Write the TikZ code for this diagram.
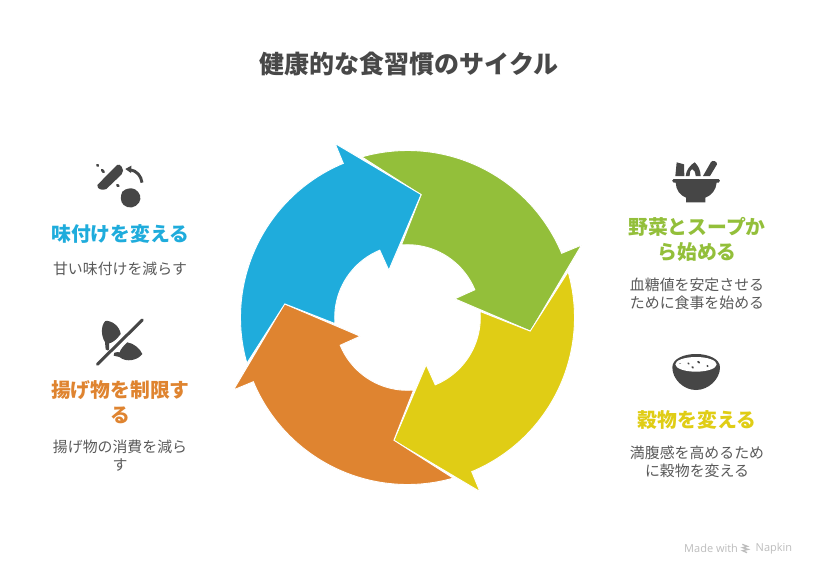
\documentclass[tikz,border=0pt]{standalone}
\usepackage{fontspec}
\setmainfont{Noto Sans CJK JP}
\newfontfamily\latinfont{Open Sans}
\definecolor{cgreen}{HTML}{93BF3A}
\definecolor{cyellow}{HTML}{E0CD15}
\definecolor{corange}{HTML}{DF8430}
\definecolor{cblue}{HTML}{1FACDC}
\definecolor{ink}{HTML}{464646}
\definecolor{titleink}{HTML}{484848}
\definecolor{bodyink}{HTML}{5A5A5A}
\definecolor{faint}{HTML}{BDBDBD}
\tikzset{
  titletext/.style={text=titleink,font=\fontsize{25}{30}\selectfont\bfseries,inner sep=0pt},
  headtext/.style={font=\fontsize{19.8}{25}\selectfont\bfseries,align=center,inner sep=0pt},
  bodytext/.style={text=bodyink,font=\fontsize{14.9}{18}\selectfont,align=center,inner sep=0pt},
  icon/.style={fill=ink,draw=none},
  iconline/.style={draw=ink,line cap=round,line join=round},
  ring/.style={draw=white,line width=0.9pt,line join=miter,miter limit=10},
  zoomA/.style={shift={(#1)},scale=1/3},
}
\newcommand{\ringarrow}[2]{%
  \begin{scope}[shift={(407.5,317.5)},rotate=#1]
    \fill[#2,ring]
      (-46,-160.8) -- (13.6,-122.7) -- (-6,-72.7)
      -- plot[domain=-94.7:-22.4,samples=40] ({72.8*cos(\x)},{72.8*sin(\x)})
      -- (47.3,-18.7) -- (123,13.6) -- (174,-72.4) -- (154.6,-64.4)
      -- plot[domain=-22.6:-106,samples=60] ({167*cos(\x)},{167*sin(\x)})
      -- cycle;
  \end{scope}}
\begin{document}
\begin{tikzpicture}[x=1pt,y=-1pt]
\useasboundingbox (0,0) rectangle (816,576);
\fill[white] (0,0) rectangle (816,576);
\ringarrow{0}{cgreen}
\ringarrow{-90}{cyellow}
\ringarrow{-180}{corange}
\ringarrow{-270}{cblue}

\node[titletext] (title) at (409,64.5) {健康的な食習慣のサイクル};

\node[headtext,text=cblue] (h1) at (120.3,233.7) {味付けを変える};
\node[bodytext] (b1) at (120,268.8) {甘い味付けを減らす};
\node[headtext,text=corange] (h2) at (120.3,402) {揚げ物を制限す\\る};
\node[bodytext] (b2) at (120,455.7) {揚げ物の消費を減ら\\す};
\node[headtext,text=cgreen] (h3) at (697,239) {野菜とスープか\\ら始める};
\node[bodytext] (b3) at (697,293.5) {血糖値を安定させる\\ために食事を始める};
\node[headtext,text=cyellow] (h4) at (697,419.5) {穀物を変える};
\node[bodytext] (b4) at (697,461.5) {満腹感を高めるため\\に穀物を変える};

% seasoning icon
\begin{scope}[zoomA={40,150}]
  \fill[icon] (172,105) -- (231,45) .. controls (236,42) and (240,44) .. (245,50)
     .. controls (250,57) and (251,66) .. (245,73) -- (199,117)
     .. controls (190,121) and (178,119) .. (174,113) .. controls (171,110) and (171,107) .. (172,105) -- cycle;
  \draw[iconline,line width=2.6pt] (172,45) -- (174,47) (186,60) -- (191,66) (232,105) -- (235,108);
  \fill[icon] (247,125) .. controls (258,114) and (275,113) .. (285,118)
     .. controls (300,126) and (306,145) .. (297,158)
     .. controls (288,173) and (265,178) .. (251,165)
     .. controls (241,155) and (240,140) .. (247,125) -- cycle;
  \draw[iconline,line width=2.9pt,line cap=butt] (306,98) .. controls (304,78) and (290,62) .. (270,59);
  \fill[icon] (274,47) -- (256,57) -- (273,69) -- cycle;
\end{scope}

% fried food icon
\begin{scope}[zoomA={40,310}]
  \fill[icon] (196,33) .. controls (215,30) and (240,50) .. (242,72)
     .. controls (230,90) and (215,99) .. (207,100) -- (208,124) -- (197,118) -- (195,96)
     .. controls (184,80) and (181,48) .. (196,33) -- cycle;
  \fill[icon] (262,97) .. controls (282,100) and (300,116) .. (307,132)
     .. controls (294,150) and (260,159) .. (238,141)
     .. controls (233,139) and (227,139) .. (221,137) -- (223,128)
     .. controls (230,126) and (234,126) .. (239,127) .. controls (241,118) and (252,106) .. (262,97) -- cycle;
  \draw[white,line width=4.4pt] (172,163) -- (307,30);
  \draw[iconline,line width=3pt] (172,163) -- (307,30);
\end{scope}

% soup bowl icon
\begin{scope}[zoomA={610,150}]
  \fill[icon] (196,78) -- (200,37) -- (222,43) -- (223,78) -- cycle;
  \fill[icon] (227,78) .. controls (228,62) and (240,45) .. (254,37)
     .. controls (264,45) and (272,62) .. (272,78) -- (257,78)
     .. controls (256,66) and (252,58) .. (247,58) .. controls (241,58) and (239,68) .. (239,78) -- cycle;
  \fill[icon] (279,78) -- (303,36) .. controls (308,29) and (322,34) .. (321,43) -- (300,78) -- cycle;
  \fill[icon] (191,87) -- (326,87) .. controls (331,87) and (331,97) .. (326,98)
     -- (320,98) .. controls (318,120) and (305,136) .. (286,143) -- (286,157) -- (228,157) -- (228,143)
     .. controls (210,136) and (198,120) .. (197,98) -- (191,98) .. controls (185,97) and (185,87) .. (191,87) -- cycle;
\end{scope}

% rice bowl icon
\begin{scope}[zoomA={610,345}]
  \fill[icon] (187,67) .. controls (187,42) and (220,27) .. (258,27)
     .. controls (296,27) and (330,42) .. (330,67)
     .. controls (330,102) and (296,135) .. (258,135)
     .. controls (220,135) and (187,102) .. (187,67) -- cycle;
  \fill[white] (258,58) ellipse [x radius=62,y radius=22];
  \draw[iconline,line width=1.7pt]
    (235,55) -- (236,56) (247,66) -- (249,68) (264,50) -- (268,53) (292,62) -- (293,64);
  \draw[draw=ink!50,line cap=round,line width=1pt] (209,55) -- (212,55);
\end{scope}

% footer
\node[text=faint,font=\latinfont\fontsize{11}{12}\selectfont,anchor=west,inner sep=0pt] (made) at (684,548.5) {Made with};
\node[text=faint,font=\latinfont\fontsize{11}{12}\selectfont,anchor=west,inner sep=0pt] (napkin) at (755.5,548.5) {Napkin};
\begin{scope}[zoomA={670,535}]
  \draw[faint,line width=1.3pt,line cap=butt]
    (217,28) -- (232,34) -- (218,38) -- (234,43) -- (218,47) -- (231,53);
\end{scope}
\end{tikzpicture}
\end{document}
